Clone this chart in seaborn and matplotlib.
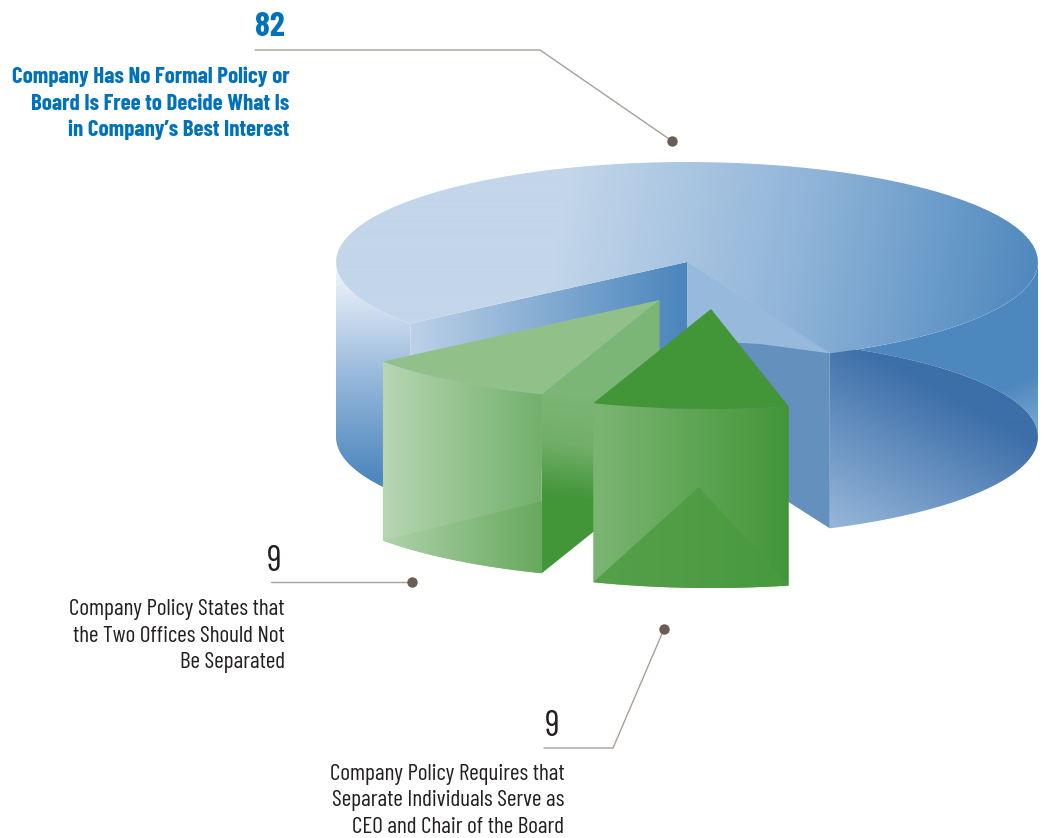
import numpy as np
import matplotlib
matplotlib.use("Agg")
import matplotlib.pyplot as plt
from matplotlib.patches import Polygon
import seaborn as sns

# Board policy on separating the CEO and Chair roles
values = [9, 9, 82]
numbers = ["9", "9", "82"]
labels = [
    ["Company Policy States that", "the Two Offices Should Not", "Be Separated"],
    ["Company Policy Requires that", "Separate Individuals Serve as", "CEO and Chair of the Board"],
    ["Company Has No Formal Policy or", "Board Is Free to Decide What Is", "in Company\u2019s Best Interest"],
]

BLUE_TEXT = "#0072bc"
DARK_TEXT = "#231f20"
LEADER = "#a89f97"
DOT = "#6b5d52"

sns.set_theme(style="white")
plt.rcParams["font.family"] = ["Barlow Condensed", "Liberation Sans", "DejaVu Sans"]

W, H = 1045, 838
fig = plt.figure(figsize=(W / 100, H / 100), dpi=100, facecolor="white")
ax = fig.add_axes([0, 0, 1, 1])

# Projected pie: ellipse radii, wall height and slice hubs in canvas units
RX, RY = 351, 100
DEPTH = 175
SLICE_DEPTH = 179
MAIN_HUB = np.array([687.0, 262.0])
HUB_1 = np.array([659.5, 300.0])
HUB_2 = np.array([711.0, 309.0])
START = 142.0
MAIN_CLEARANCE = 11.2
per_unit = 360.0 / sum(values)


def rim(hub, t0, t1, n=80):
    t = np.radians(np.linspace(t0, t1, n))
    return np.column_stack([hub[0] + RX * np.cos(t), hub[1] + RY * np.sin(t)])


def fill(points, stops, p0, p1):
    """Fill a polygon with a linear colour ramp running from p0 to p1."""
    pts = np.asarray(points)
    cmap = sns.blend_palette(stops, n_colors=256, as_cmap=True)
    x0, y0 = np.floor(pts.min(axis=0)) - 1
    x1, y1 = np.ceil(pts.max(axis=0)) + 1
    gx, gy = np.meshgrid(np.arange(x0, x1 + 1), np.arange(y0, y1 + 1))
    d = np.array(p1, float) - np.array(p0, float)
    ramp = ((gx - p0[0]) * d[0] + (gy - p0[1]) * d[1]) / (d @ d)
    patch = Polygon(pts, closed=True, transform=ax.transData, fc="none", ec="none")
    ax.add_patch(patch)
    im = ax.imshow(np.clip(ramp, 0, 1), cmap=cmap, vmin=0, vmax=1, aspect="auto",
                   extent=(x0 - .5, x1 + .5, y1 + .5, y0 - .5), interpolation="bilinear")
    im.set_clip_path(patch)
    return im


# Slice angles follow the values
a0 = START
a1 = a0 - values[0] * per_unit
a2 = a1 - values[1] * per_unit
main_end = a2 - MAIN_CLEARANCE
main_far = main_end - (values[2] * per_unit - MAIN_CLEARANCE)

drop = np.array([0, DEPTH])
floor_hub = MAIN_HUB + drop

# Large slice: right wall and its underside
wall_right = np.vstack([rim(MAIN_HUB, main_end, 0), rim(floor_hub, 0, -main_end)])
fill(wall_right, ["#4c87bd", "#4c87bd", "#78a5cf"], (1000, 335), (1040, 425))
under = rim(floor_hub, -main_end, main_end)
fill(under, ["#3c6ea8", "#93b4d8"], (930, 385), (850, 531))

# Large slice: exposed cut faces
rim_a = rim(MAIN_HUB, main_end, main_end, 1)[0]
rim_b = rim(MAIN_HUB, main_far, main_far, 1)[0]
face_right = [MAIN_HUB, rim_a, rim_a + drop, floor_hub]
fill(face_right, ["#6490bd", "#6490bd"], (687, 0), (830, 0))
sheen = np.vstack([[MAIN_HUB], [rim_a], [(760, 344)], [(687, 340)]])
fill(sheen, ["#96b9dc", "#96b9dc"], (687, 0), (830, 0))

wall_left = np.vstack([rim(MAIN_HUB, 180, main_far + 360), rim(floor_hub, main_far + 360, 180)])
fill(wall_left, ["#eef3f9", "#98b9dc", "#4c87bd"], (0, 272), (0, 480))
face_left = [MAIN_HUB, rim_b, rim_b + drop, floor_hub]
fill(face_left, ["#bdd2e8", "#4a85bc"], (407, 0), (687, 0))

# Large slice: top surface
top = np.vstack([[MAIN_HUB], rim(MAIN_HUB, main_end, main_far)])
fill(top, ["#c3d6ea", "#c3d6ea", "#8fb4d8", "#4c87bd"], (320, 170), (1040, 310))

# First green slice, pulled out of the pie
g1 = np.array([0, SLICE_DEPTH])
front1 = rim(HUB_1, a0, a1)
back1 = rim(HUB_1 + g1, a1, a0)
corner_l1, corner_r1 = front1[0], front1[-1]
fill([HUB_1, corner_r1, corner_r1 + g1, HUB_1 + g1],
     ["#7db676", "#72af6a", "#429638"], (600, 395), (585, 500))
fill(np.vstack([front1, back1]), ["#b6d6b2", "#73b06b"], (corner_l1[0], 0), (corner_r1[0], 0))
fill(np.vstack([[corner_r1 + (0, 107)], back1]), ["#b0d2ab", "#66a95d"],
     (corner_l1[0], 0), (corner_r1[0], 0))
fill(np.vstack([[HUB_1], front1]), ["#91c18a", "#91c18a"], (381, 0), (659, 0))

# Second green slice
front2 = rim(HUB_2, a1, a2)
back2 = rim(HUB_2 + g1, a2, a1)
fill(np.vstack([front2, back2]), ["#7cb573", "#429638"], (front2[0][0], 0), (front2[-1][0], 0))
fill(np.vstack([[(699, 487)], back2]), ["#56a04c", "#479a3d"], (front2[0][0], 0), (front2[-1][0], 0))
fill(np.vstack([[HUB_2], front2]), ["#429638", "#429638"], (590, 0), (790, 0))

# Leader lines and their end dots
leaders = [
    ([255, 540, 672], [50, 50, 141]),
    ([271, 412], [582, 582]),
    ([544, 613, 664], [748, 748, 629]),
]
for xs, ys in leaders:
    ax.plot(xs, ys, color=LEADER, lw=1.0, solid_joinstyle="miter", zorder=5)
    ax.plot(xs[-1], ys[-1], "o", color=DOT, ms=7.5, mew=0, zorder=6)

# Callouts, each a count above its description
PX = 0.72


def callout(lines, right, first_baseline, color, weight, size, step=26.7):
    for i, line in enumerate(lines):
        ax.text(right, first_baseline + i * step, line, color=color, fontsize=size * PX,
                fontweight=weight, ha="right", va="baseline", zorder=7)


ax.text(285, 36, numbers[2], color=BLUE_TEXT, fontsize=34 * PX, fontweight="bold",
        ha="right", va="baseline", zorder=7)
callout(labels[2], 289.5, 83, BLUE_TEXT, "bold", 22.9)
ax.text(282, 571, numbers[0], color=DARK_TEXT, fontsize=36 * PX, ha="right", va="baseline", zorder=7)
callout(labels[0], 284.5, 615, DARK_TEXT, 400, 23.3)
ax.text(560, 736, numbers[1], color=DARK_TEXT, fontsize=36 * PX, ha="right", va="baseline", zorder=7)
callout(labels[1], 564.5, 779.5, DARK_TEXT, 400, 23.3)

ax.set_xlim(0, W)
ax.set_ylim(H, 0)
ax.axis("off")
fig.savefig("out.png", dpi=100, facecolor="white")
